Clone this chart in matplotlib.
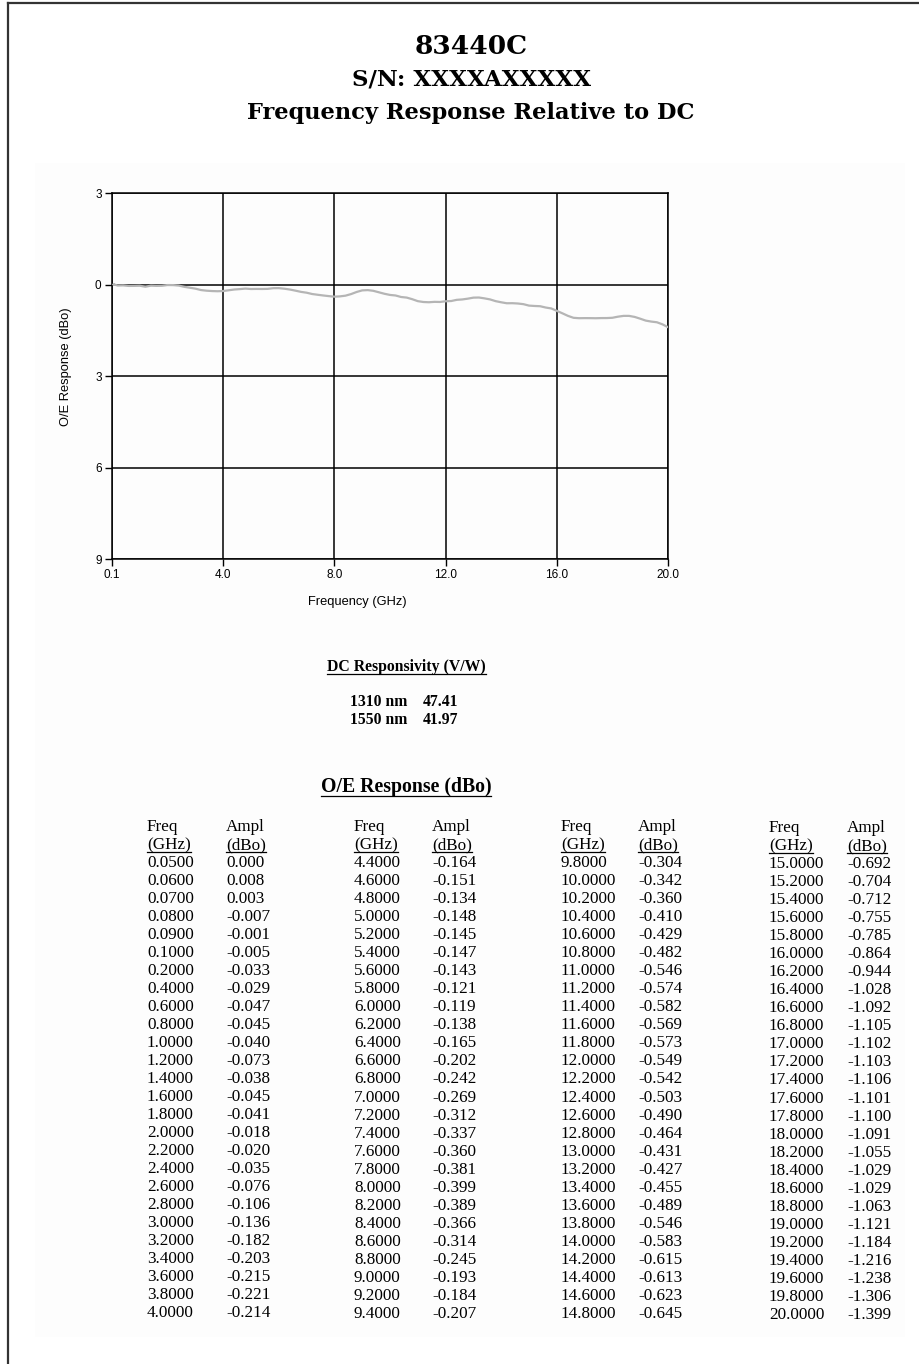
import numpy as np
import matplotlib.pyplot as plt
from matplotlib.lines import Line2D
from matplotlib.patches import Rectangle

plt.rcParams['font.family'] = ['Liberation Sans', 'DejaVu Sans']

W, H = 920, 1364

# table data (freq GHz, ampl dBo)
freq_1 = [0.05, 0.06, 0.07, 0.08, 0.09, 0.1, 0.2, 0.4, 0.6, 0.8, 1.0, 1.2, 1.4,
          1.6, 1.8, 2.0, 2.2, 2.4, 2.6, 2.8, 3.0, 3.2, 3.4, 3.6, 3.8, 4.0]
ampl_1 = [0.000, 0.008, 0.003, -0.007, -0.001, -0.005, -0.033, -0.029, -0.047,
          -0.045, -0.040, -0.073, -0.038, -0.045, -0.041, -0.018, -0.020, -0.035,
          -0.076, -0.106, -0.136, -0.182, -0.203, -0.215, -0.221, -0.214]
freq_2 = [4.4, 4.6, 4.8, 5.0, 5.2, 5.4, 5.6, 5.8, 6.0, 6.2, 6.4, 6.6, 6.8,
          7.0, 7.2, 7.4, 7.6, 7.8, 8.0, 8.2, 8.4, 8.6, 8.8, 9.0, 9.2, 9.4]
ampl_2 = [-0.164, -0.151, -0.134, -0.148, -0.145, -0.147, -0.143, -0.121, -0.119,
          -0.138, -0.165, -0.202, -0.242, -0.269, -0.312, -0.337, -0.360, -0.381,
          -0.399, -0.389, -0.366, -0.314, -0.245, -0.193, -0.184, -0.207]
freq_3 = [9.8, 10.0, 10.2, 10.4, 10.6, 10.8, 11.0, 11.2, 11.4, 11.6, 11.8, 12.0, 12.2,
          12.4, 12.6, 12.8, 13.0, 13.2, 13.4, 13.6, 13.8, 14.0, 14.2, 14.4, 14.6, 14.8]
ampl_3 = [-0.304, -0.342, -0.360, -0.410, -0.429, -0.482, -0.546, -0.574, -0.582,
          -0.569, -0.573, -0.549, -0.542, -0.503, -0.490, -0.464, -0.431, -0.427,
          -0.455, -0.489, -0.546, -0.583, -0.615, -0.613, -0.623, -0.645]
freq_4 = [15.0, 15.2, 15.4, 15.6, 15.8, 16.0, 16.2, 16.4, 16.6, 16.8, 17.0, 17.2, 17.4,
          17.6, 17.8, 18.0, 18.2, 18.4, 18.6, 18.8, 19.0, 19.2, 19.4, 19.6, 19.8, 20.0]
ampl_4 = [-0.692, -0.704, -0.712, -0.755, -0.785, -0.864, -0.944, -1.028, -1.092,
          -1.105, -1.102, -1.103, -1.106, -1.101, -1.100, -1.091, -1.055, -1.029,
          -1.029, -1.063, -1.121, -1.184, -1.216, -1.238, -1.306, -1.399]

x_ticks = [0, 4, 8, 12, 16, 20]
x_labels = ['0.1', '4.0', '8.0', '12.0', '16.0', '20.0']
y_ticks = [3, 0, -3, -6, -9]
y_labels = ['3', '0', '3', '6', '9']

wavelengths = ['1310 nm', '1550 nm']
responsivity = ['47.41', '41.97']

freq = freq_1 + freq_2 + freq_3 + freq_4
ampl = ampl_1 + ampl_2 + ampl_3 + ampl_4


def fx(x):
    return x / W


def fy(y):
    return 1 - y / H


fig = plt.figure(figsize=(W / 100, H / 100), dpi=100)
fig.patch.set_facecolor('white')

# faint scanned-page area
fig.add_artist(Rectangle((fx(35), fy(1337)), fx(905) - fx(35), (1337 - 163) / H,
                         facecolor='#fdfdfd', edgecolor='none', zorder=0))

# page border (top and left only)
fig.add_artist(Line2D([fx(8), fx(920)], [fy(3), fy(3)], color='#333333', lw=1.6))
fig.add_artist(Line2D([fx(8), fx(8)], [fy(3), fy(1364)], color='#333333', lw=1.6))

serif_title = ['DejaVu Serif']
fig.text(fx(471), fy(46), '83440C', ha='center', va='center',
         family=serif_title, weight='bold', fontsize=19)
fig.text(fx(472), fy(80), 'S/N: XXXXAXXXXX', ha='center', va='center',
         family=serif_title, weight='bold', fontsize=16.5)
fig.text(fx(471), fy(113), 'Frequency Response Relative to DC', ha='center', va='center',
         family=serif_title, weight='bold', fontsize=16.2)

# chart
ax = fig.add_axes([fx(112), fy(559), fx(668) - fx(112), (559 - 193) / H])
ax.set_facecolor('none')
ax.plot(freq, ampl, color='#b5b5b5', lw=1.6, zorder=3)
ax.set_xlim(0, 20)
ax.set_ylim(-9, 3)
ax.set_xticks(x_ticks)
ax.set_xticklabels(x_labels)
ax.set_yticks(y_ticks)
ax.set_yticklabels(y_labels)
ax.grid(True, color='black', lw=1.1, zorder=1)
for s in ax.spines.values():
    s.set_color('black')
    s.set_linewidth(1.1)
ax.tick_params(direction='out', length=5, width=1, labelsize=8.5, color='black', pad=2.5)
ax.set_xlabel('Frequency (GHz)', fontsize=9.3)
ax.set_ylabel('O/E Response (dBo)', fontsize=9.3)
ax.xaxis.set_label_coords(0.442, -0.101)
ax.yaxis.set_label_coords(-0.072, 0.525)

times = ['Liberation Serif']
texts_to_underline = []

t = fig.text(fx(327), fy(667), 'DC Responsivity (V/W)', ha='left', va='center',
             family=times, weight='bold', fontsize=11.3)
texts_to_underline.append(t)
for i in range(len(wavelengths)):
    yy = 702 + 18 * i
    fig.text(fx(350), fy(yy), wavelengths[i], ha='left', va='center',
             family=times, weight='bold', fontsize=11.3)
    fig.text(fx(423), fy(yy), responsivity[i], ha='left', va='center',
             family=times, weight='bold', fontsize=11.3)

t = fig.text(fx(406), fy(787), 'O/E Response (dBo)', ha='center', va='center',
             family=times, weight='bold', fontsize=14.2)
texts_to_underline.append(t)

# data table, 4 column groups
col_freqs = [freq_1, freq_2, freq_3, freq_4]
col_ampls = [ampl_1, ampl_2, ampl_3, ampl_4]
col_x = [(147, 226), (354, 432), (561, 638), (769, 847)]
col_y = [(863, 1313), (863, 1314), (863, 1314), (864, 1315)]
fs = 12.3
for fr, am, (xf, xa), (y0, y1) in zip(col_freqs, col_ampls, col_x, col_y):
    step = (y1 - y0) / (len(fr) - 1)
    fig.text(fx(xf), fy(y0 - 2 * step), 'Freq', ha='left', va='center', family=times, fontsize=fs)
    fig.text(fx(xa), fy(y0 - 2 * step), 'Ampl', ha='left', va='center', family=times, fontsize=fs)
    t1 = fig.text(fx(xf), fy(y0 - step), '(GHz)', ha='left', va='center', family=times, fontsize=fs)
    t2 = fig.text(fx(xa), fy(y0 - step), '(dBo)', ha='left', va='center', family=times, fontsize=fs)
    texts_to_underline += [t1, t2]
    for k in range(len(fr)):
        fig.text(fx(xf), fy(y0 + k * step), '%.4f' % fr[k], ha='left', va='center',
                 family=times, fontsize=fs)
        fig.text(fx(xa), fy(y0 + k * step), '%.3f' % am[k], ha='left', va='center',
                 family=times, fontsize=fs)

renderer = fig.canvas.get_renderer()
for t in texts_to_underline:
    bb = t.get_window_extent(renderer)
    yline = bb.y0 + 1
    fig.add_artist(Line2D([bb.x0 / W, bb.x1 / W], [yline / H, yline / H],
                          color='black', lw=0.9))

fig.savefig('out.png', dpi=100)
